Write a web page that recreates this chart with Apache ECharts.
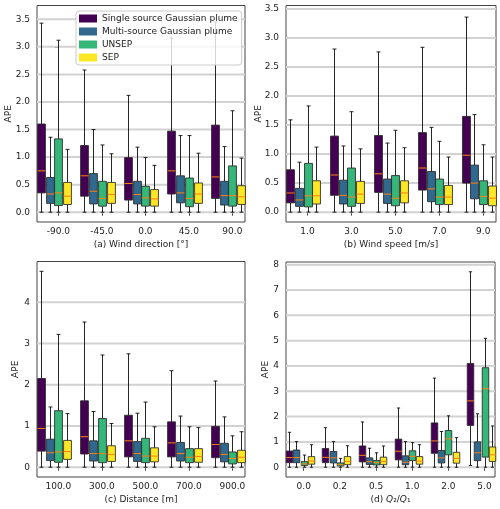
<!DOCTYPE html>
<html><head><meta charset="utf-8">
<script src="https://cdn.jsdelivr.net/npm/echarts@6/dist/echarts.min.js"></script>
<style>html,body{margin:0;padding:0;background:#fff}#c{width:500px;height:509px}</style>
</head><body><div id="c"></div><script>
const seriesNames = ['Single source Gaussian plume','Multi-source Gaussian plume','UNSEP','SEP'];
const seriesColors = ['#440154','#31688e','#35b779','#fde725'];

// each row: [min, q1, median, q3, max]
const catsA = ['-90.0','-45.0','0.0','45.0','90.0'];
const singleA = [[0,0.35,0.75,1.60,3.43],[0,0.29,0.66,1.21,2.58],[0,0.22,0.52,0.99,2.12],[0,0.33,0.75,1.47,3.16],[0,0.25,0.64,1.58,3.45]];
const multiA  = [[0,0.16,0.33,0.63,1.36],[0,0.15,0.38,0.70,1.50],[0,0.15,0.32,0.56,1.18],[0,0.17,0.35,0.66,1.39],[0,0.13,0.30,0.56,1.19]];
const unsepA  = [[0,0.12,0.35,1.33,3.12],[0,0.11,0.25,0.56,1.22],[0,0.11,0.26,0.47,0.99],[0,0.10,0.25,0.62,1.39],[0,0.11,0.30,0.84,1.84]];
const sepA    = [[0,0.14,0.29,0.54,1.14],[0,0.16,0.32,0.54,1.06],[0,0.11,0.24,0.41,0.85],[0,0.16,0.33,0.53,1.07],[0,0.14,0.28,0.48,0.98]];
const yTicksA = [0,0.5,1,1.5,2,2.5,3,3.5];

const catsB = ['1.0','3.0','5.0','7.0','9.0'];
const singleB = [[0,0.16,0.33,0.73,1.59],[0,0.29,0.64,1.31,2.81],[0,0.34,0.66,1.32,2.76],[0,0.38,0.76,1.37,2.84],[0,0.50,0.98,1.65,3.36]];
const multiB  = [[0,0.10,0.21,0.41,0.86],[0,0.14,0.29,0.55,1.14],[0,0.15,0.31,0.57,1.19],[0,0.18,0.40,0.70,1.46],[0,0.23,0.50,0.81,1.68]];
const unsepB  = [[0,0.09,0.28,0.84,1.83],[0,0.10,0.26,0.76,1.73],[0,0.11,0.24,0.63,1.41],[0,0.13,0.26,0.57,1.22],[0,0.13,0.27,0.54,1.16]];
const sepB    = [[0,0.14,0.28,0.54,1.12],[0,0.15,0.31,0.53,1.09],[0,0.16,0.33,0.54,1.11],[0,0.13,0.26,0.46,0.95],[0,0.11,0.24,0.45,0.95]];
const yTicksB = [0,0.5,1,1.5,2,2.5,3,3.5];

const catsC = ['100.0','300.0','500.0','700.0','900.0'];
const singleC = [[0,0.39,0.94,2.15,4.75],[0,0.32,0.74,1.61,3.52],[0,0.25,0.64,1.26,2.75],[0,0.25,0.59,1.10,2.34],[0,0.23,0.55,0.99,2.09]];
const multiC  = [[0,0.16,0.35,0.68,1.46],[0,0.15,0.33,0.64,1.35],[0,0.14,0.33,0.62,1.31],[0,0.15,0.33,0.60,1.24],[0,0.13,0.31,0.58,1.22]];
const unsepC  = [[0,0.12,0.37,1.37,3.22],[0,0.11,0.33,1.18,2.72],[0,0.11,0.27,0.70,1.58],[0,0.11,0.24,0.45,0.98],[0,0.08,0.21,0.37,0.76]];
const sepC    = [[0,0.19,0.38,0.65,1.30],[0,0.14,0.31,0.52,1.06],[0,0.13,0.27,0.47,0.98],[0,0.12,0.26,0.45,0.96],[0,0.11,0.24,0.41,0.86]];
const yTicksC = [0,1,2,3,4];

const catsD = ['0.0','0.2','0.5','1.0','2.0','5.0'];
const singleD = [[0,0.18,0.38,0.64,1.38],[0,0.18,0.39,0.74,1.56],[0,0.21,0.47,0.84,1.79],[0,0.29,0.63,1.11,2.34],[0,0.55,1.04,1.75,3.52],[0.07,1.65,2.62,4.10,7.72]];
const multiD  = [[0,0.18,0.38,0.68,1.01],[0,0.17,0.37,0.62,1.01],[0,0.11,0.22,0.37,0.75],[0,0.10,0.20,0.45,1.01],[0,0.17,0.37,0.66,1.41],[0,0.26,0.57,1.00,2.11]];
const unsepD  = [[0,0.07,0.13,0.22,0.48],[0,0.05,0.10,0.17,0.35],[0,0.09,0.18,0.27,0.57],[0,0.26,0.43,0.65,0.97],[0,0.49,1.12,1.45,2.03],[0,0.40,3.10,3.93,5.09]];
const sepD    = [[0,0.12,0.25,0.42,0.89],[0,0.10,0.23,0.42,0.85],[0,0.10,0.23,0.40,0.84],[0,0.12,0.24,0.42,0.89],[0,0.16,0.35,0.59,1.17],[0,0.23,0.49,0.80,1.63]];
const yTicksD = [0,1,2,3,4,5,6,7,8];

const FONT = 'DejaVu Sans';
const FS = 9;
const TXT = '#222';
const FRAME = '#444';
const GRIDC = '#d2d2d2';
const BOX_W = 0.18;
const OFFSETS = [-0.4, -0.2, 0, 0.2];

const panels = [
  {cats: catsA, sets: [singleA, multiA, unsepA, sepA], yTicks: yTicksA, ymin: -0.178, ymax: 3.75, dec: 1,
   grid: {left: 37, top: 5.5, width: 208, height: 216.5}, xName: '(a) Wind direction [°]', yGap: 24},
  {cats: catsB, sets: [singleB, multiB, unsepB, sepB], yTicks: yTicksB, ymin: -0.17, ymax: 3.56, dec: 1,
   grid: {left: 286, top: 5.5, width: 210, height: 216.5}, xName: '(b) Wind speed [m/s]', yGap: 23},
  {cats: catsC, sets: [singleC, multiC, unsepC, sepC], yTicks: yTicksC, ymin: -0.2375, ymax: 4.9875, dec: 0,
   grid: {left: 37, top: 261.5, width: 208, height: 215.5}, xName: '(c) Distance [m]', yGap: 17},
  {cats: catsD, sets: [singleD, multiD, unsepD, sepD], yTicks: yTicksD, ymin: -0.386, ymax: 8.106, dec: 0,
   grid: {left: 286, top: 262, width: 209, height: 215}, xName: '(d) {i|Q}₂/{i|Q}₁', yGap: 16}
];

function boxRender(offset) {
  return function (params, api) {
    const x = api.value(0) + offset;
    const pMin = api.coord([x, api.value(1)]);
    const pQ1 = api.coord([x, api.value(2)]);
    const pMed = api.coord([x, api.value(3)]);
    const pQ3 = api.coord([x, api.value(4)]);
    const pMax = api.coord([x, api.value(5)]);
    const w = api.size([BOX_W, 0])[0];
    const cx = Math.round(pMin[0]) + 0.5;
    const hw = w / 2;
    const cap = w / 4;
    const color = api.visual('color');
    const wl = {stroke: 'rgba(0,0,0,0.85)', lineWidth: 1};
    return {
      type: 'group',
      children: [
        {type: 'line', shape: {x1: cx, y1: pMin[1], x2: cx, y2: pQ1[1]}, style: wl},
        {type: 'line', shape: {x1: cx, y1: pQ3[1], x2: cx, y2: pMax[1]}, style: wl},
        {type: 'line', shape: {x1: cx - cap, y1: pMin[1], x2: cx + cap, y2: pMin[1]}, style: wl},
        {type: 'line', shape: {x1: cx - cap, y1: pMax[1], x2: cx + cap, y2: pMax[1]}, style: wl},
        {type: 'rect', shape: {x: cx - hw, y: pQ3[1], width: w, height: pQ1[1] - pQ3[1]},
         style: {fill: color, stroke: 'rgba(40,40,40,0.85)', lineWidth: 1}},
        {type: 'line', shape: {x1: cx - hw, y1: pMed[1], x2: cx + hw, y2: pMed[1]},
         style: {stroke: '#ff7f0e', lineWidth: 1}}
      ]
    };
  };
}

const grids = [], xAxes = [], yAxes = [], series = [];
panels.forEach((p, pi) => {
  grids.push(Object.assign({show: true, borderColor: FRAME, borderWidth: 1,
    containLabel: false, outerBoundsMode: 'none'}, p.grid));
  const idx = p.cats.map((c, i) => i);
  const xmin = -0.4 - BOX_W / 2;
  const xmax = (p.cats.length - 1) + 0.2 + BOX_W / 2;
  xAxes.push({
    gridIndex: pi, type: 'value', min: xmin, max: xmax,
    axisLine: {show: false}, splitLine: {show: false},
    axisTick: {show: true, customValues: idx, length: 3.5, lineStyle: {color: FRAME, width: 1}},
    axisLabel: {customValues: idx, formatter: v => p.cats[Math.round(v)], margin: 5,
      fontFamily: FONT, fontSize: FS, color: TXT},
    name: p.xName, nameLocation: 'middle', nameGap: 18.5, nameMoveOverlap: false,
    nameTextStyle: {fontFamily: FONT, fontSize: FS, color: TXT,
      rich: {i: {fontStyle: 'italic', fontFamily: FONT, fontSize: FS, color: TXT}}}
  });
  yAxes.push({
    gridIndex: pi, type: 'value', min: p.ymin, max: p.ymax,
    axisLine: {show: false}, splitLine: {show: false},
    axisTick: {show: true, customValues: p.yTicks, length: 3.5, lineStyle: {color: FRAME, width: 1}},
    axisLabel: {customValues: p.yTicks, formatter: v => v.toFixed(p.dec), margin: 7,
      fontFamily: FONT, fontSize: FS, color: TXT},
    name: 'APE', nameLocation: 'middle', nameRotate: 90, nameGap: p.yGap, nameMoveOverlap: false,
    nameTextStyle: {fontFamily: FONT, fontSize: FS, color: TXT}
  });
  // horizontal grid lines: one line series per tick value, spanning the x range
  p.yTicks.forEach(v => {
    series.push({
      type: 'line', xAxisIndex: pi, yAxisIndex: pi, z: 1, silent: true, symbol: 'none',
      data: [[xmin, v], [xmax, v]],
      lineStyle: {color: GRIDC, width: 2, type: 'solid'},
      emphasis: {disabled: true}, tooltip: {show: false}
    });
  });
  p.sets.forEach((set, si) => {
    series.push({
      type: 'custom', name: seriesNames[si], xAxisIndex: pi, yAxisIndex: pi, z: 2,
      itemStyle: {color: seriesColors[si]},
      data: set.map((r, gi) => [gi].concat(r)),
      encode: {x: 0, y: [1, 2, 3, 4, 5]},
      renderItem: boxRender(OFFSETS[si])
    });
  });
});

const chart = echarts.init(document.getElementById('c'), null, {renderer: 'canvas'});
chart.setOption({
  animation: false,
  backgroundColor: '#fff',
  textStyle: {fontFamily: FONT},
  grid: grids, xAxis: xAxes, yAxis: yAxes, series: series,
  legend: {
    orient: 'vertical', left: 76, top: 11, z: 10,
    data: seriesNames.map((n, i) => ({name: n, icon: 'rect', itemStyle: {color: seriesColors[i]}})),
    itemWidth: 18, itemHeight: 8, itemGap: 2,
    padding: [2, 4, 2, 3],
    backgroundColor: 'rgba(255,255,255,0.8)', borderColor: '#cccccc', borderWidth: 1, borderRadius: 3,
    textStyle: {fontFamily: FONT, fontSize: FS, color: TXT, lineHeight: 11},
    selectedMode: false
  }
});
</script></body></html>
